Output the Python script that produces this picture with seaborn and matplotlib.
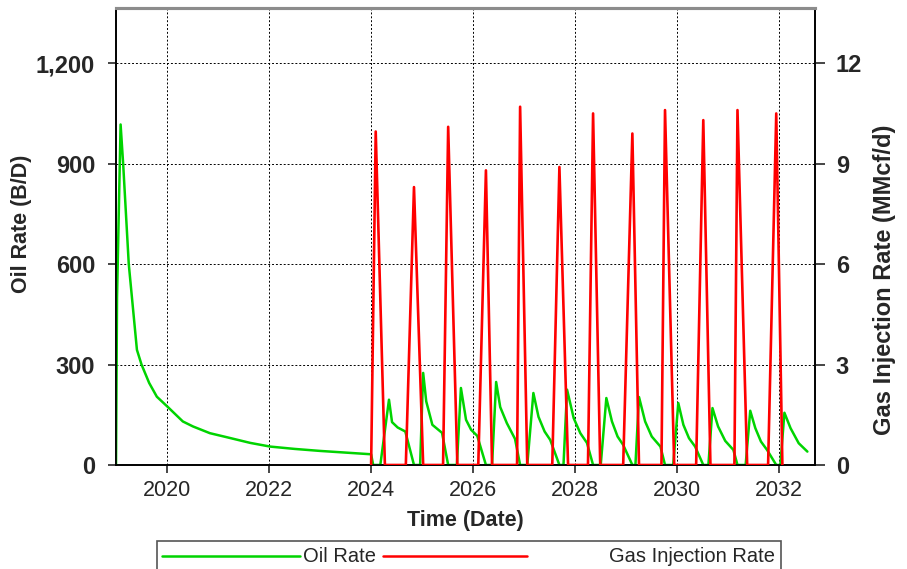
import numpy as np
import pandas as pd
import seaborn as sns
import matplotlib.pyplot as plt
from matplotlib.lines import Line2D
from matplotlib.patches import Rectangle
from matplotlib.ticker import FuncFormatter

sns.set_theme(style="white")
plt.rcParams['font.family'] = ['Liberation Sans', 'DejaVu Sans']

# primary depletion before injection starts
hist_years = [2019.00, 2019.02, 2019.09, 2019.14, 2019.25, 2019.41, 2019.50, 2019.65,
              2019.80, 2020.01, 2020.31, 2020.51, 2020.84, 2021.17, 2021.63, 2022.02,
              2022.50, 2023.00, 2023.50, 2024.00]
hist_oil = [0, 500, 1017, 900, 600, 344, 300, 245, 204, 174, 130, 115, 95, 83, 66, 55,
            48, 42, 37, 32]

# huff-n-puff cycles: gas injection (MMcf/d)
gas_start = [2024.00, 2024.68, 2025.41, 2026.10, 2026.86, 2027.55,
             2028.25, 2028.94, 2029.69, 2030.37, 2031.12, 2031.78]
gas_peak_t = [2024.09, 2024.84, 2025.51, 2026.25, 2026.92, 2027.69,
              2028.35, 2029.12, 2029.76, 2030.51, 2031.18, 2031.94]
gas_peak = [9.96, 8.3, 10.1, 8.8, 10.7, 8.9, 10.5, 9.9, 10.6, 10.3, 10.6, 10.5]
gas_end = [2024.27, 2025.02, 2025.69, 2026.37, 2027.06, 2027.86,
           2028.49, 2029.25, 2029.94, 2030.65, 2031.37, 2032.06]

# oil response per cycle (B/D)
cycle_years = [
    [2024.04, 2024.18, 2024.35, 2024.41, 2024.52, 2024.67],
    [2024.84, 2024.96, 2025.02, 2025.08, 2025.20, 2025.39],
    [2025.51, 2025.68, 2025.76, 2025.86, 2025.96, 2026.08],
    [2026.25, 2026.37, 2026.45, 2026.53, 2026.66, 2026.82],
    [2026.92, 2027.06, 2027.18, 2027.28, 2027.40, 2027.51],
    [2027.69, 2027.77, 2027.84, 2027.97, 2028.10, 2028.23],
    [2028.35, 2028.50, 2028.61, 2028.72, 2028.83, 2028.94],
    [2029.12, 2029.18, 2029.25, 2029.37, 2029.50, 2029.67],
    [2029.76, 2029.92, 2030.02, 2030.12, 2030.23, 2030.35],
    [2030.51, 2030.61, 2030.69, 2030.80, 2030.94, 2031.10],
    [2031.18, 2031.34, 2031.43, 2031.53, 2031.64, 2031.76],
    [2031.94, 2032.02, 2032.10, 2032.22, 2032.38, 2032.55],
]
cycle_oil = [
    [0, 0, 195, 128, 112, 100],
    [0, 0, 275, 190, 120, 96],
    [0, 0, 230, 135, 105, 87],
    [0, 0, 248, 173, 125, 78],
    [0, 0, 215, 144, 100, 75],
    [0, 0, 225, 140, 95, 66],
    [0, 0, 200, 130, 85, 60],
    [0, 0, 203, 130, 85, 55],
    [0, 0, 185, 120, 80, 55],
    [0, 0, 170, 115, 72, 45],
    [0, 0, 162, 110, 70, 45],
    [0, 0, 156, 110, 65, 40],
]

oil = pd.DataFrame({
    "t": hist_years + [t for c in cycle_years for t in c],
    "v": hist_oil + [v for c in cycle_oil for v in c],
})
gas_t, gas_v = [], []
for s, pt, p, e in zip(gas_start, gas_peak_t, gas_peak, gas_end):
    gas_t += [s, pt, e]
    gas_v += [0, p, 0]
gas = pd.DataFrame({"t": gas_t, "v": gas_v})

green = "#00d400"
red = "#ff0000"

fig = plt.figure(figsize=(9.07, 5.69), dpi=100)
ax = fig.add_axes([0.1279, 0.1828, 0.7707, 0.8032])
ax2 = ax.twinx()

sns.lineplot(data=oil, x="t", y="v", ax=ax, color=green, lw=1.8,
             sort=False, estimator=None, zorder=3)
sns.lineplot(data=gas, x="t", y="v", ax=ax2, color=red, lw=1.9,
             sort=False, estimator=None, zorder=3)

ax.set_xlim(2019.0, 2032.7)
ax.set_ylim(0, 1365)
ax2.set_ylim(0, 13.65)
ax.set_xticks([2020, 2022, 2024, 2026, 2028, 2030, 2032])
ax.set_yticks([0, 300, 600, 900, 1200])
ax2.set_yticks([0, 3, 6, 9, 12])
ax.yaxis.set_major_formatter(FuncFormatter(lambda v, p: f"{int(v):,}"))

ax.grid(True, color="black", linestyle=(0, (2, 2)), lw=0.7)
ax2.grid(False)

for a in (ax, ax2):
    for s in ("left", "right", "bottom"):
        a.spines[s].set_color("black")
        a.spines[s].set_linewidth(1.2)
    a.spines["top"].set_color("#8c8c8c")
    a.spines["top"].set_linewidth(2.2)

ax.tick_params(axis="y", direction="out", length=6, width=1.2, pad=9, left=True,
               labelsize=17)
ax2.tick_params(axis="y", direction="out", length=7, width=1.2, pad=8, right=True,
                labelsize=17)
ax.tick_params(axis="x", direction="out", length=6, width=1.2, pad=5,
               bottom=True, labelsize=15.5)
for lbl in ax.get_yticklabels() + ax2.get_yticklabels():
    lbl.set_fontweight("bold")

ax.set_xlabel("Time (Date)", fontsize=15.5, fontweight="bold", labelpad=6)
ax.set_ylabel("")
ax2.set_ylabel("")

H = 569
W = 907
fig.text(22 / W, (H - 224) / H, "Oil Rate (B/D)", rotation=90, fontsize=15.5,
         fontweight="bold", ha="center", va="center")
fig.text(885 / W, (H - 280) / H, "Gas Injection Rate (MMcf/d)", rotation=90,
         fontsize=17, fontweight="bold", ha="center", va="center")

# legend box, cut off at the bottom edge like the original
fig.patches.append(Rectangle((157 / W, -0.02), (781 - 157) / W, (H - 541) / H + 0.02,
                             transform=fig.transFigure, fill=False,
                             edgecolor="#555555", lw=1.2))
fig.lines.append(Line2D([162 / W, 300 / W], [(H - 556) / H] * 2,
                        transform=fig.transFigure, color=green, lw=1.8))
fig.lines.append(Line2D([383 / W, 527 / W], [(H - 556) / H] * 2,
                        transform=fig.transFigure, color=red, lw=1.8))
fig.text(303 / W, (H - 556) / H, "Oil Rate", fontsize=14.5, va="center", ha="left")
fig.text(775 / W, (H - 556) / H, "Gas Injection Rate", fontsize=14.5,
         va="center", ha="right")

fig.savefig("out.png", dpi=100)
